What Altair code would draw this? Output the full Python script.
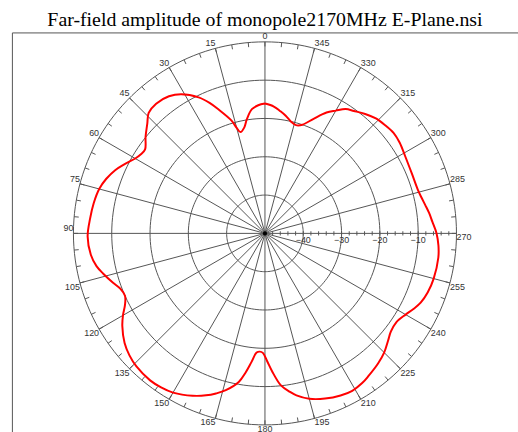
import altair as alt
import pandas as pd
import numpy as np

TITLE = "Far-field amplitude of monopole2170MHz E-Plane.nsi"

# Far-field pattern (angle in degrees, counter-clockwise from top; amplitude in dB)
angles_deg = [0, 3, 6, 9, 11, 13.6, 15, 16.5, 20.6, 23, 26, 31, 35, 40, 44, 47, 51, 55,
              57.5, 60, 64, 67, 71, 75, 80, 85, 91, 97, 101, 104, 108, 111, 114, 117,
              120, 123, 128, 132, 136, 142, 146, 150, 156, 160, 163, 166, 170, 172, 174,
              176, 177.5, 179, 181, 183, 186, 189, 191, 195, 200, 205, 209, 213, 216,
              221, 225, 229, 232, 236, 240, 243, 246, 250, 255, 262, 266, 270, 274, 277,
              280, 283, 286, 292, 299, 304, 308, 312, 316, 320, 324, 327, 330, 333, 337,
              341, 344, 347, 350, 353, 356, 360]
gain_db = [-16.1, -16.5, -17.4, -19.8, -21.8, -22.8, -21.5, -19.3, -15.4, -13.0, -10.5,
           -7.6, -6.3, -5.8, -6.3, -8.0, -9.9, -11.8, -11.6, -10.9, -9.0, -7.6, -6.2, -5.2,
           -4.6, -4.2, -3.7, -4.2, -5.2, -6.5, -8.3, -9.6, -10.0, -9.0, -7.2, -5.6, -3.5,
           -2.4, -1.7, -1.3, -1.5, -2.0, -3.6, -5.0, -6.3, -7.8, -10.6, -13.2, -16.2,
           -18.8, -19.1, -18.8, -16.6, -13.9, -10.1, -8.1, -6.9, -5.3, -4.1, -3.3, -3.0,
           -3.4, -4.0, -5.0, -6.0, -7.4, -8.3, -8.6, -7.6, -6.5, -5.5, -4.8, -4.4, -4.3,
           -4.6, -5.2, -6.2, -6.8, -7.5, -8.1, -8.5, -8.6, -8.2, -7.6, -7.4, -7.8, -8.3,
           -9.3, -10.5, -11.3, -13.0, -14.6, -17.5, -20.0, -20.6, -20.0, -18.8, -17.8,
           -16.8, -16.1]

ring_db = [-40, -30, -20, -10, 0]
spoke_angles = list(range(0, 360, 15))
tick_angles = list(range(0, 360, 5))
radial_tick_db = list(range(-48, 0, 2))
radial_label_db = [-40, -30, -20, -10]
DB_MIN = -50
DB_MAX = 0

XR = 66.06
YR = 52.46
xs = alt.Scale(domain=[-XR, XR], nice=False, zero=False)
ys = alt.Scale(domain=[-YR, YR], nice=False, zero=False)
GRID = "#555555"
TXT = "#333333"
RAD = "PI/180"

def X(f):
    return alt.X(f, type="quantitative", scale=xs, axis=None)

def Y(f):
    return alt.Y(f, type="quantitative", scale=ys, axis=None)

# rings
circ = np.arange(0, 361, 2)
ring_df = pd.DataFrame([(d, a) for d in ring_db for a in circ], columns=["db", "a"])
rings = alt.Chart(ring_df).transform_calculate(
    r=f"datum.db - ({DB_MIN})",
    x=f"-datum.r*sin(datum.a*{RAD})",
    y=f"datum.r*cos(datum.a*{RAD})",
).mark_line(color=GRID, strokeWidth=1).encode(
    x=X("x"), y=Y("y"), detail="db:N", order="a:Q")

# spokes
spokes = alt.Chart(pd.DataFrame({"a": spoke_angles})).transform_calculate(
    x0="0", y0="0",
    x=f"-{DB_MAX - DB_MIN}*sin(datum.a*{RAD})",
    y=f"{DB_MAX - DB_MIN}*cos(datum.a*{RAD})",
).mark_rule(color=GRID, strokeWidth=1).encode(
    x=X("x0"), y=Y("y0"), x2="x", y2="y")

# outer ticks every 5 degrees
R = DB_MAX - DB_MIN
ticks = alt.Chart(pd.DataFrame({"a": tick_angles})).transform_calculate(
    xa=f"-{R}*sin(datum.a*{RAD})", ya=f"{R}*cos(datum.a*{RAD})",
    xb=f"-{R - 1.2}*sin(datum.a*{RAD})", yb=f"{R - 1.2}*cos(datum.a*{RAD})",
).mark_rule(color=GRID, strokeWidth=1).encode(
    x=X("xa"), y=Y("ya"), x2="xb", y2="yb")

# radial axis ticks (along 270 direction)
rticks = alt.Chart(pd.DataFrame({"db": radial_tick_db})).transform_calculate(
    x=f"datum.db - ({DB_MIN})", ya="-0.55", yb="0.55",
).mark_rule(color=GRID, strokeWidth=1).encode(x=X("x"), y=Y("ya"), y2="yb")

rlabels = alt.Chart(pd.DataFrame({"db": radial_label_db})).transform_calculate(
    x=f"datum.db - ({DB_MIN})", y="-1.8",
).mark_text(font="Liberation Sans", fontSize=9, color=TXT, align="center",
            baseline="middle").encode(x=X("x"), y=Y("y"), text=alt.Text("db:Q", format="d"))

# pattern
pattern = alt.Chart(pd.DataFrame({"a": angles_deg, "g": gain_db})).transform_calculate(
    r=f"max(datum.g - ({DB_MIN}), 0)",
    x=f"-datum.r*sin(datum.a*{RAD})",
    y=f"datum.r*cos(datum.a*{RAD})",
).mark_line(color="#ff0000", strokeWidth=2, interpolate="catmull-rom").encode(
    x=X("x"), y=Y("y"), order="a:Q")

center = alt.Chart(pd.DataFrame({"x": [0], "y": [0]})).mark_point(
    filled=True, color="black", size=18, opacity=1).encode(x=X("x"), y=Y("y"))

# angle labels
lab_base = alt.Chart(pd.DataFrame({"a": spoke_angles})).transform_calculate(
    x=f"-{R}*sin(datum.a*{RAD})", y=f"{R}*cos(datum.a*{RAD})")

def lab(cond, align, baseline, dy):
    return lab_base.transform_filter(cond).mark_text(
        font="Liberation Sans", fontSize=9, color=TXT, align=align,
        baseline=baseline, dy=dy).encode(x=X("x"), y=Y("y"), text=alt.Text("a:Q", format="d"))

labels = [
    lab("datum.a == 0", "center", "alphabetic", -3),
    lab("datum.a > 0 && datum.a <= 90", "right", "alphabetic", -2),
    lab("datum.a > 90 && datum.a < 180", "right", "top", 0),
    lab("datum.a == 180", "center", "top", 0),
    lab("datum.a > 180 && datum.a <= 270", "left", "top", 0),
    lab("datum.a > 270", "left", "alphabetic", -2),
]

chart = alt.layer(rings, spokes, ticks, rticks, rlabels, *labels, pattern, center).properties(
    width=510, height=405,
    title=alt.Title(TITLE, font="Liberation Serif", fontSize=20, fontWeight="normal",
                    color="black", anchor="middle", offset=6, baseline="alphabetic", dy=20),
    padding={"left": 12, "top": 31, "right": 0, "bottom": 0},
    autosize=alt.AutoSizeParams(type="none"),
    background="white",
).configure_view(stroke=GRID, strokeWidth=1)

chart.save("out.html", embed_options={"renderer": "svg", "actions": False})
